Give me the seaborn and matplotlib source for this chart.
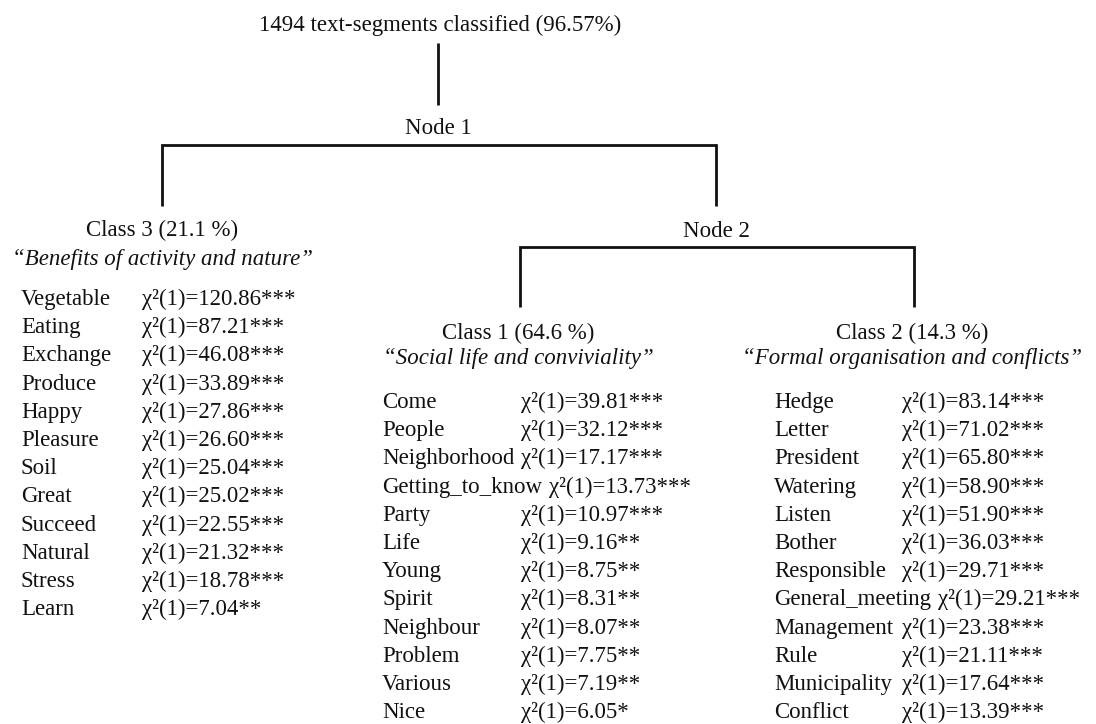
import matplotlib
matplotlib.use("Agg")
import matplotlib.pyplot as plt
import seaborn as sns

# -----------------------------
# Data
# -----------------------------
title = "1494 text-segments classified (96.57%)"

class3_header = "Class 3 (21.1 %)"
class3_theme = "\u201cBenefits of activity and nature\u201d"
class3_words = ["Vegetable", "Eating", "Exchange", "Produce", "Happy", "Pleasure",
                "Soil", "Great", "Succeed", "Natural", "Stress", "Learn"]
class3_chi = [120.86, 87.21, 46.08, 33.89, 27.86, 26.60,
              25.04, 25.02, 22.55, 21.32, 18.78, 7.04]
class3_sig = ["***"] * 11 + ["**"]

class1_header = "Class 1 (64.6 %)"
class1_theme = "\u201cSocial life and conviviality\u201d"
class1_words = ["Come", "People", "Neighborhood", "Getting_to_know", "Party", "Life",
                "Young", "Spirit", "Neighbour", "Problem", "Various", "Nice"]
class1_chi = [39.81, 32.12, 17.17, 13.73, 10.97, 9.16,
              8.75, 8.31, 8.07, 7.75, 7.19, 6.05]
class1_sig = ["***"] * 5 + ["**"] * 6 + ["*"]

class2_header = "Class 2 (14.3 %)"
class2_theme = "\u201cFormal organisation and conflicts\u201d"
class2_words = ["Hedge", "Letter", "President", "Watering", "Listen", "Bother",
                "Responsible", "General_meeting", "Management", "Rule",
                "Municipality", "Conflict"]
class2_chi = [83.14, 71.02, 65.80, 58.90, 51.90, 36.03,
              29.71, 29.21, 23.38, 21.11, 17.64, 13.39]
class2_sig = ["***"] * 12

# -----------------------------
# Style
# -----------------------------
sns.set_theme(style="white")
plt.rcParams["font.family"] = ["Liberation Serif", "DejaVu Serif"]
FS = 16.5
LW = 2.0
INK = "#111111"
ROW = 28.2

fig = plt.figure(figsize=(10.96, 7.24), dpi=100)
ax = fig.add_axes([0, 0, 1, 1])
ax.set_xlim(0, 1096)
ax.set_ylim(724, 0)
ax.axis("off")


def txt(x, y, s, **kw):
    kw.setdefault("ha", "center")
    kw.setdefault("va", "center_baseline")
    return ax.text(x, y, s, fontsize=FS, color=INK, **kw)


def branch(x_left, x_right, y_top, y_bottom):
    # horizontal bar with two legs
    ax.plot([x_left, x_left, x_right, x_right], [y_bottom, y_top, y_top, y_bottom],
            color=INK, lw=LW, solid_joinstyle="miter", solid_capstyle="butt")


# tree
txt(440, 23, title)
ax.plot([438, 438], [43, 105], color=INK, lw=LW, solid_capstyle="butt")
txt(438, 126, "Node 1")
branch(162, 716, 145, 206)
txt(716, 229, "Node 2")
branch(520, 914, 247, 307)

# class headers + word lists
classes = [
    (162, 228, 257, class3_header, class3_theme, 21, 142, 297,
     class3_words, class3_chi, class3_sig),
    (518, 331, 356, class1_header, class1_theme, 382, 521, 400,
     class1_words, class1_chi, class1_sig),
    (912, 331, 356, class2_header, class2_theme, 774, 902, 400,
     class2_words, class2_chi, class2_sig),
]

fig.canvas.draw()
renderer = fig.canvas.get_renderer()

for cx, hy, ty, head, theme, wx, chix, y0, words, chis, sigs in classes:
    txt(cx, hy, head)
    txt(cx, ty, theme, style="italic")
    for i, (w, c, s) in enumerate(zip(words, chis, sigs)):
        y = y0 + i * ROW
        t = txt(wx, y, w, ha="left")
        # long words push the statistic to the right by one space
        end = ax.transData.inverted().transform(
            (t.get_window_extent(renderer).x1, 0))[0]
        x_stat = max(chix, end + 7)
        txt(x_stat, y, f"\u03c7\u00b2(1)={c:.2f}{s}", ha="left")

fig.savefig("out.png", dpi=100, facecolor="white")
